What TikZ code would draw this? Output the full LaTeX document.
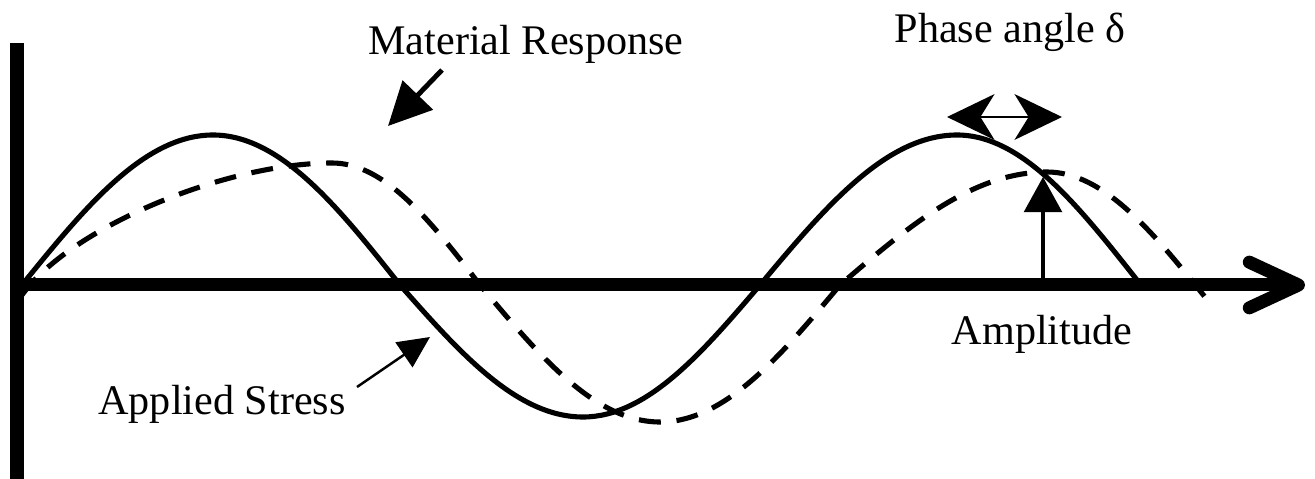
\documentclass[tikz,border=0pt]{standalone}
\usepackage{fontspec}
\setmainfont{Liberation Serif}
\usetikzlibrary{arrows.meta}

\begin{document}
\begin{tikzpicture}[x=0.02cm, y=-0.02cm,
    axe/.style={line width=7.4pt},
    courbe/.style={line width=2.9pt},
    pointille/.style={courbe, dash pattern=on 12.5pt off 9pt},
    etiquette/.style={anchor=base, inner sep=0pt, font=\fontsize{24}{28}\selectfont}]
    % Cadre de la figure
    \useasboundingbox (0,0) rectangle (1315,479);

    % Dessiner les axes
    \draw[axe] (17,43) -- (17,479);
    \draw[axe, -{Straight Barb[length=28pt, width=26pt, round]}] (17,285) -- (1305,285);

    % Contrainte appliquee (trait plein)
    \draw[courbe] (22,285) sin (213,135) cos (400,285) sin (583,417)
                  cos (760,285) sin (957,135) cos (1137,280);

    % Reponse du materiau (tirets)
    \draw[pointille] (22,295) .. controls (70,228) and (225,163) .. (332,163)
                     cos (480,285) sin (660,422) cos (840,285) sin (1047,172) cos (1205,297);

    % Textes
    \node[etiquette] (materiau) at (526,55) {Material Response};
    \node[etiquette] (phase) at (1010,43) {Phase angle δ};
    \node[etiquette] (amplitude) at (1042,345) {Amplitude};
    \node[etiquette] (contrainte) at (222,415) {Applied Stress};

    % Fleches vers les courbes
    \coordinate (matDepart) at (442,70);
    \coordinate (matPointe) at (388,126);
    \draw[line width=2.8pt, -{Triangle[length=24.5pt, width=23.5pt]}] (matDepart) -- (matPointe);

    \coordinate (contDepart) at (357,387);
    \coordinate (contPointe) at (430,337);
    \draw[line width=1.4pt, -{Triangle[length=18pt, width=17pt]}] (contDepart) -- (contPointe);

    % Amplitude et dephasage
    \coordinate (ampBase) at (1043,285);
    \coordinate (ampPointe) at (1043,177);
    \draw[line width=2pt, -{Triangle[length=20pt, width=21.5pt]}] (ampBase) -- (ampPointe);

    \coordinate (phaseGauche) at (947,117);
    \coordinate (phaseDroite) at (1062,117);
    \draw[line width=1.7pt, {Stealth[length=27pt, width=26pt, inset=8pt]}-{Stealth[length=27pt, width=26pt, inset=8pt]}]
        (phaseGauche) -- (phaseDroite);
\end{tikzpicture}
\end{document}
